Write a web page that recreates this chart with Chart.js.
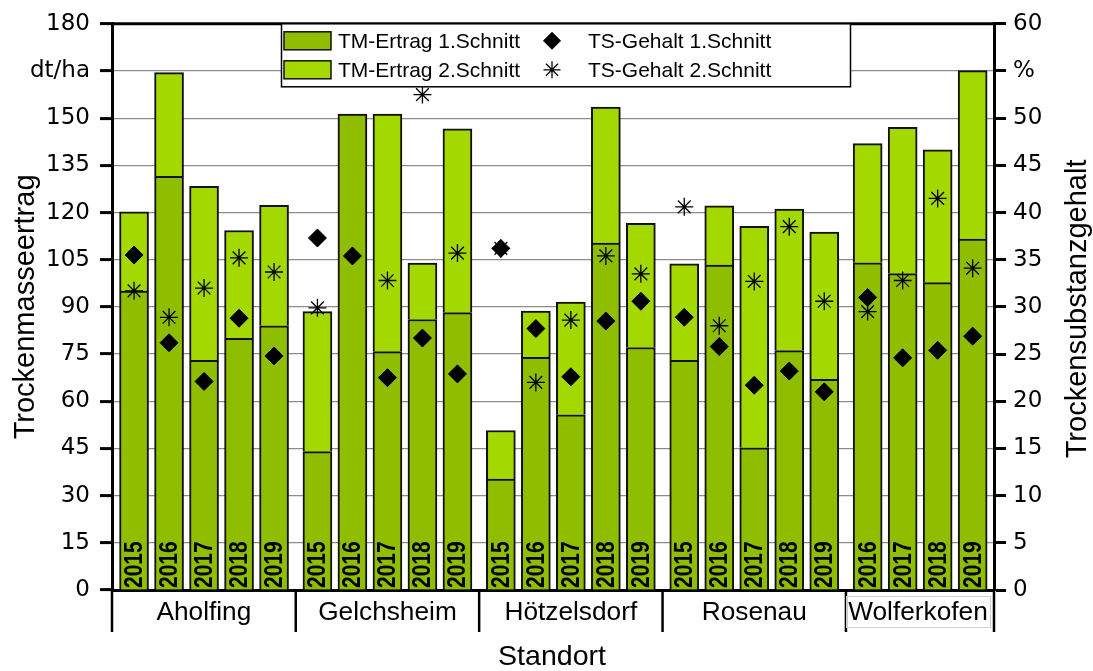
<!DOCTYPE html>
<html>
<head>
<meta charset="utf-8">
<script src="https://cdn.jsdelivr.net/npm/chart.js@4.4.1/dist/chart.umd.min.js"></script>
<style>
  html, body { margin: 0; padding: 0; background: #ffffff; }
  #wrap { width: 1093px; height: 671px; position: relative; }
</style>
</head>
<body>
<div id="wrap"><canvas id="chart" width="1093" height="671"></canvas></div>
<script>
// Sites and the harvest years measured at each site
const sites = ['Aholfing', 'Gelchsheim', 'Hötzelsdorf', 'Rosenau', 'Wolferkofen'];
const siteOfBar = [0,0,0,0,0, 1,1,1,1,1, 2,2,2,2,2, 3,3,3,3,3, 4,4,4,4];
const years = ['2015','2016','2017','2018','2019',
               '2015','2016','2017','2018','2019',
               '2015','2016','2017','2018','2019',
               '2015','2016','2017','2018','2019',
               '2016','2017','2018','2019'];

// Dry matter yield (dt/ha), 1st and 2nd cut
const tm1 = [95.0, 131.5, 73.0, 80.0, 84.0,
             44.0, 151.3, 75.8, 86.0, 88.2,
             35.3, 74.0, 55.7, 110.3, 77.1,
             73.0, 103.3, 45.2, 76.1, 67.0,
             104.0, 100.6, 97.7, 111.6];
const tm2 = [25.2, 33.0, 55.3, 34.3, 38.3,
             44.5, null, 75.5, 17.9, 58.4,
             15.4, 14.7, 35.8, 43.2, 39.5,
             30.7, 18.8, 70.4, 45.0, 46.8,
             37.9, 46.5, 42.2, 53.5];

// Dry substance content (%), 1st and 2nd cut
const ts1 = [35.5, 26.2, 22.1, 28.8, 24.8,
             37.3, 35.4, 22.5, 26.7, 22.9,
             36.2, 27.7, 22.6, 28.5, 30.6,
             28.9, 25.8, 21.7, 23.2, 21.0,
             31.0, 24.6, 25.4, 26.9];
const ts2 = [31.7, 28.9, 32.0, 35.2, 33.7,
             29.9, null, 32.8, 52.5, 35.7,
             36.2, 22.0, 28.6, 35.4, 33.5,
             40.6, 28.0, 32.7, 38.5, 30.6,
             29.5, 32.8, 41.5, 34.1];

// Axis ranges and renamed tick labels
const yLeft  = { min: 0, max: 180, step: 15, unitAt: 165, unit: 'dt/ha' };
const yRight = { min: 0, max: 60,  step: 5,  unitAt: 55,  unit: '%' };

const seriesNames = ['TM-Ertrag 1.Schnitt', 'TM-Ertrag 2.Schnitt', 'TS-Gehalt 1.Schnitt', 'TS-Gehalt 2.Schnitt'];
const axisTitles = { left: 'Trockenmasseertrag', right: 'Trockensubstanzgehalt', bottom: 'Standort' };

// Layout of the bar slots: bars of one site sit next to each other,
// sites are separated by a small extra gap.
const FIRST_OFFSET = 0.63, SITE_PITCH = 5.24, X_MAX = 25.2;
const barPos = siteOfBar.map((s, i) => {
  const idx = siteOfBar.slice(0, i).filter(v => v === s).length;
  return FIRST_OFFSET + s * SITE_PITCH + idx;
});

const DARK = '#8fbd00', LIGHT = '#a3d800', EDGE = '#111111';
const TICK_FONT = { family: 'DejaVu Sans', size: 23 };

const pts = (arr) => arr.map((v, i) => ({ x: barPos[i], y: v }));

// Draw text with a horizontal stretch factor
function wideText(ctx, text, x, y, sx) {
  ctx.save();
  ctx.translate(x, y);
  ctx.scale(sx, 1);
  ctx.fillText(text, 0, 0);
  ctx.restore();
}

// Decorations: frame, year labels inside the bars, site band, titles, legend
const decor = {
  id: 'decor',
  afterDatasetsDraw(chart) {
    const { ctx, scales: { x } } = chart;
    const bottom = chart.chartArea.bottom;
    ctx.save();
    ctx.fillStyle = '#000';
    ctx.font = 'bold 21px "Liberation Sans"';
    ctx.textAlign = 'left';
    ctx.textBaseline = 'middle';
    years.forEach((yr, i) => {
      const px = x.getPixelForValue(barPos[i]);
      ctx.save();
      ctx.translate(px + 1, bottom - 2);
      ctx.rotate(-Math.PI / 2);
      ctx.scale(1, 1.2);
      ctx.fillText(yr, 0, 0);
      ctx.restore();
    });
    ctx.restore();
  },
  afterDraw(chart) {
    const { ctx, chartArea: a, scales: { x } } = chart;
    ctx.save();

    // top frame line
    ctx.strokeStyle = '#000';
    ctx.lineWidth = 3;
    ctx.beginPath();
    ctx.moveTo(a.left, a.top);
    ctx.lineTo(a.right, a.top);
    ctx.stroke();

    // site band below the plot
    const bandBottom = a.bottom + 42;
    const bounds = [a.left];
    for (let s = 0; s < sites.length - 1; s++) {
      const lastIdx = siteOfBar.lastIndexOf(s);
      const nextIdx = siteOfBar.indexOf(s + 1);
      bounds.push(x.getPixelForValue((barPos[lastIdx] + barPos[nextIdx]) / 2));
    }
    bounds.push(a.right);
    ctx.lineWidth = 2.5;
    bounds.forEach(bx => {
      ctx.beginPath();
      ctx.moveTo(bx, a.bottom);
      ctx.lineTo(bx, bandBottom);
      ctx.stroke();
    });
    ctx.fillStyle = '#000';
    ctx.font = '25px "Liberation Sans"';
    ctx.textAlign = 'center';
    ctx.textBaseline = 'alphabetic';
    sites.forEach((name, s) => {
      const cx = (bounds[s] + bounds[s + 1]) / 2 - (s === sites.length - 1 ? 2 : 0);
      wideText(ctx, name, cx, a.bottom + 30, 1.05);
      if (s === sites.length - 1) {
        const w = ctx.measureText(name).width * 1.05;
        ctx.strokeStyle = '#cfcfcf';
        ctx.lineWidth = 1;
        ctx.strokeRect(Math.round(cx - w / 2 - 2) + 0.5, a.bottom + 6.5, Math.round(w + 4), 31);
        ctx.strokeStyle = '#000';
      }
    });

    // axis titles
    ctx.font = '29px "Liberation Sans"';
    ctx.textBaseline = 'middle';
    ctx.save();
    ctx.translate(26, (a.top + a.bottom) / 2);
    ctx.rotate(-Math.PI / 2);
    ctx.fillText(axisTitles.left, 0, 0);
    ctx.restore();
    ctx.save();
    ctx.translate(1078, (a.top + a.bottom) / 2 + 2);
    ctx.rotate(-Math.PI / 2);
    ctx.fillText(axisTitles.right, 0, 0);
    ctx.restore();
    ctx.font = '28px "Liberation Sans"';
    ctx.textBaseline = 'alphabetic';
    wideText(ctx, axisTitles.bottom, 552, 665, 1.02);

    // legend box
    const L = { x: 281.5, y: a.top, w: 569, h: 63 };
    ctx.fillStyle = '#fff';
    ctx.fillRect(L.x, L.y, L.w, L.h);
    ctx.strokeStyle = '#000';
    ctx.lineWidth = 1.5;
    ctx.strokeRect(L.x, L.y, L.w, L.h);
    const rows = [a.top + 17, a.top + 46];
    [DARK, LIGHT].forEach((c, r) => {
      ctx.fillStyle = c;
      ctx.fillRect(284, rows[r] - 9, 47, 18);
      ctx.strokeStyle = EDGE;
      ctx.strokeRect(284, rows[r] - 9, 47, 18);
    });
    const pointSets = chart.data.datasets.slice(2);
    pointSets.forEach((ds, r) => {
      ctx.fillStyle = ds.backgroundColor;
      ctx.strokeStyle = ds.borderColor;
      ctx.lineWidth = ds.borderWidth;
      Chart.helpers.drawPoint(ctx, {
        pointStyle: ds.pointStyle, radius: ds.pointRadius - 0.5,
        borderWidth: ds.borderWidth, rotation: 0
      }, 552, rows[r]);
    });
    ctx.fillStyle = '#000';
    ctx.font = '21px "Liberation Sans"';
    ctx.textAlign = 'left';
    ctx.textBaseline = 'middle';
    ctx.fillText(seriesNames[0], 338, rows[0] + 1);
    ctx.fillText(seriesNames[1], 338, rows[1] + 1);
    ctx.fillText(seriesNames[2], 588, rows[0] + 1);
    ctx.fillText(seriesNames[3], 588, rows[1] + 1);

    ctx.restore();
  }
};

new Chart(document.getElementById('chart'), {
  type: 'bar',
  data: {
    datasets: [
      { label: seriesNames[0], type: 'bar', data: pts(tm1), backgroundColor: DARK,
        borderColor: EDGE, borderWidth: 2, barThickness: 29, order: 2, yAxisID: 'y' },
      { label: seriesNames[1], type: 'bar', data: pts(tm2), backgroundColor: LIGHT,
        borderColor: EDGE, borderWidth: 2, barThickness: 29, order: 3, yAxisID: 'y' },
      { label: seriesNames[2], type: 'scatter', data: pts(ts1), yAxisID: 'y2',
        pointStyle: 'rectRot', pointRadius: 9, backgroundColor: '#000', borderColor: '#000',
        borderWidth: 1, order: 0 },
      { label: seriesNames[3], type: 'scatter', data: pts(ts2), yAxisID: 'y2',
        pointStyle: 'star', pointRadius: 9, backgroundColor: '#000', borderColor: '#000',
        borderWidth: 1.3, order: 1 }
    ]
  },
  options: {
    responsive: false,
    animation: false,
    events: [],
    layout: { padding: { top: 22, left: 0, right: 0, bottom: 0 } },
    plugins: { legend: { display: false }, tooltip: { enabled: false } },
    scales: {
      x: {
        type: 'linear', min: 0, max: X_MAX, stacked: true, offset: false,
        bounds: 'ticks',
        ticks: { display: false },
        grid: { display: false },
        border: { display: true, color: '#000', width: 3 },
        afterFit(s) { s.height = 81; }
      },
      y: {
        position: 'left', stacked: true,
        min: yLeft.min, max: yLeft.max,
        ticks: {
          stepSize: yLeft.step, padding: 10, color: '#000', font: TICK_FONT,
          callback: v => (v === yLeft.unitAt ? yLeft.unit : v)
        },
        grid: {
          color: c => (c.tick && (c.tick.value === yLeft.min || c.tick.value === yLeft.max)) ? 'rgba(0,0,0,0)' : '#8c8c8c',
          lineWidth: 1.2,
          tickColor: '#000', tickLength: 12, tickWidth: 3
        },
        border: { display: true, color: '#000', width: 3 },
        afterFit(s) { s.width = 112; }
      },
      y2: {
        position: 'right',
        min: yRight.min, max: yRight.max,
        ticks: {
          stepSize: yRight.step, padding: 7, color: '#000', font: TICK_FONT,
          callback: v => (v === yRight.unitAt ? yRight.unit : v)
        },
        grid: { drawOnChartArea: false, tickColor: '#000', tickLength: 12, tickWidth: 3 },
        border: { display: true, color: '#000', width: 3 },
        afterFit(s) { s.width = 99; }
      }
    }
  },
  plugins: [decor]
});
</script>
</body>
</html>
